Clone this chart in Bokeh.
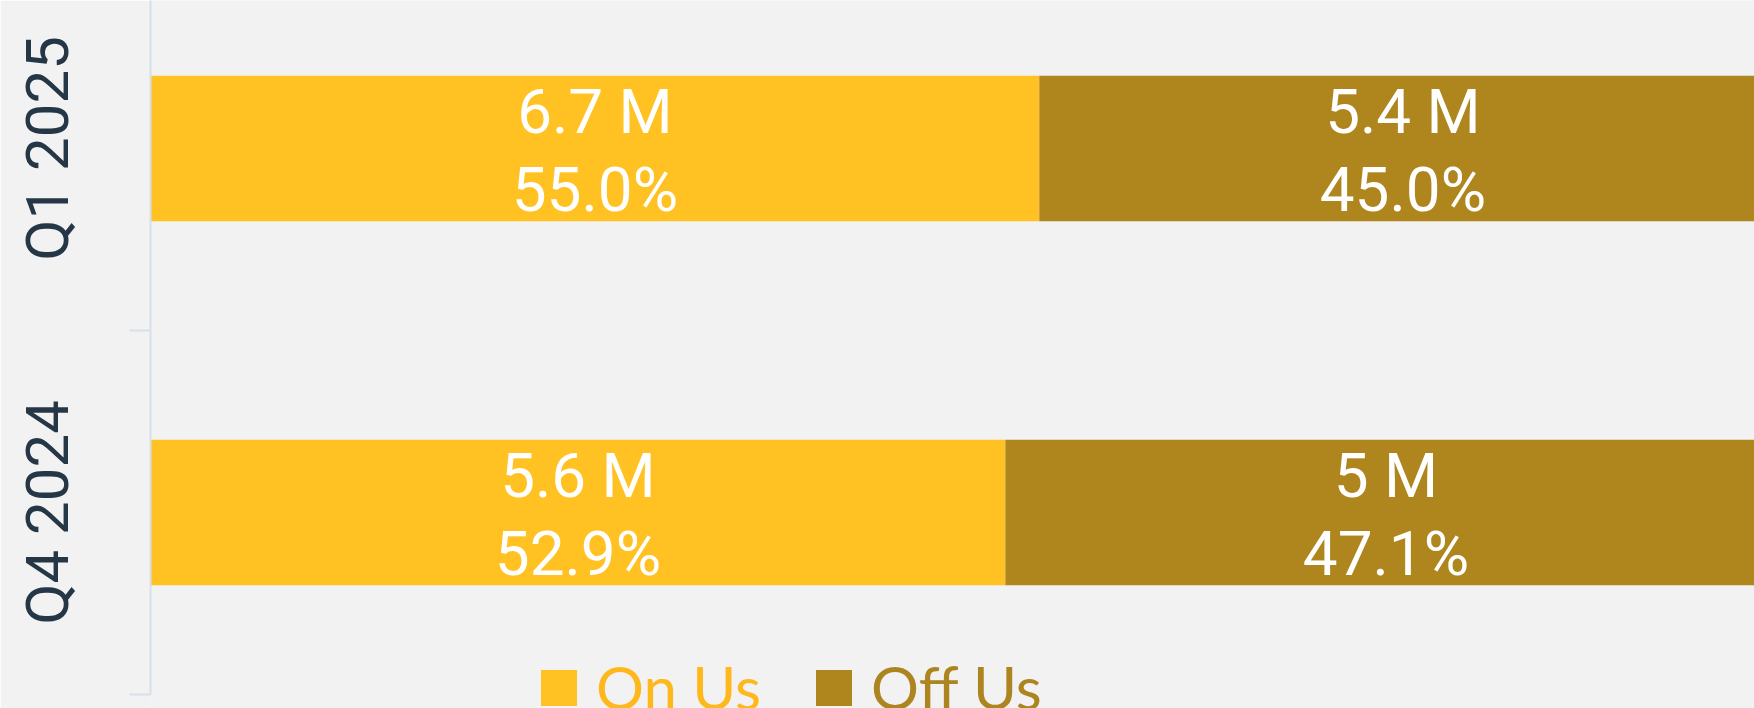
from bokeh.plotting import figure
from bokeh.models import ColumnDataSource, Range1d, FixedTicker, Legend, LegendItem
from bokeh.core.properties import value
from bokeh.embed import file_html
from bokeh.resources import INLINE

# ---- data ----
quarters = ["Q4 2024", "Q1 2025"]
series = ["On Us", "Off Us"]
on_us_millions = [5.6, 6.7]
off_us_millions = [5.0, 5.4]
on_us_pct = [52.9, 55.0]
off_us_pct = [47.1, 45.0]

# ---- styles ----
bar_colors = ["#FFC222", "#AF851E"]
legend_text_colors = ["#FFB81C", "#AD8520"]
bg = "#F2F2F2"
axis_color = "#D6E0EA"
label_font = "Roboto"
legend_font = "Lato"

ypos = list(range(len(quarters)))
on_left = [0.0 for _ in ypos]
on_right = [v / 100.0 for v in on_us_pct]
off_left = on_right
off_right = [a + b / 100.0 for a, b in zip(on_right, off_us_pct)]

def fmt_m(v):
    return f"{v:g} M"

src_on = ColumnDataSource(dict(
    y=ypos, left=on_left, right=on_right,
    mid=[(a + b) / 2 for a, b in zip(on_left, on_right)],
    val=[fmt_m(v) for v in on_us_millions],
    pct=[f"{v:.1f}%" for v in on_us_pct],
))
src_off = ColumnDataSource(dict(
    y=ypos, left=off_left, right=off_right,
    mid=[(a + b) / 2 for a, b in zip(off_left, off_right)],
    val=[fmt_m(v) for v in off_us_millions],
    pct=[f"{v:.1f}%" for v in off_us_pct],
))

y_start, y_end = -0.5385, 1.4066
p = figure(width=1754, height=708, output_backend="svg", toolbar_location=None,
           x_range=Range1d(0, 0.99257), y_range=Range1d(y_start, y_end),
           min_border_left=150, min_border_right=0, min_border_top=0, min_border_bottom=0,
           background_fill_color=bg, border_fill_color=bg, outline_line_color=None)

r_on = p.hbar(y="y", left="left", right="right", height=0.4, source=src_on,
              fill_color=bar_colors[0], line_color=None)
r_off = p.hbar(y="y", left="left", right="right", height=0.4, source=src_off,
               fill_color=bar_colors[1], line_color=None)

for src in (src_on, src_off):
    p.text(x="mid", y="y", text="val", source=src, text_align="center",
           text_baseline="alphabetic", y_offset=-36.5, text_color="white",
           text_font=value(label_font), text_font_size="62px")
    p.text(x="mid", y="y", text="pct", source=src, text_align="center",
           text_baseline="alphabetic", y_offset=41, text_color="white",
           text_font=value(label_font), text_font_size="62px")

p.xaxis.visible = False
p.xgrid.visible = False
p.ygrid.visible = False

ax = p.yaxis[0]
ax.bounds = (-0.5, y_end)
ax.ticker = FixedTicker(ticks=ypos, minor_ticks=[-0.5, 0.5, 1.5])
ax.major_label_overrides = {i: q for i, q in zip(ypos, quarters)}
ax.major_label_orientation = "vertical"
ax.major_label_text_font = "Roboto"
ax.major_label_text_font_size = "60px"
ax.major_label_text_color = "#253746"
ax.major_label_standoff = 46
ax.major_tick_out = 0
ax.major_tick_in = 0
ax.minor_tick_out = 21
ax.minor_tick_in = 0
ax.minor_tick_line_color = axis_color
ax.minor_tick_line_width = 2
ax.axis_line_color = axis_color
ax.axis_line_width = 2

legend_x = [386, 661]
for r, name, col, lx in zip((r_on, r_off), series, legend_text_colors, legend_x):
    leg = Legend(items=[LegendItem(label=name, renderers=[r])], location=(lx, -15),
                 orientation="horizontal", glyph_width=45, glyph_height=45,
                 label_standoff=15, padding=0, margin=0, border_line_color=None,
                 background_fill_alpha=0, label_text_font=legend_font,
                 label_text_font_size="60px", label_text_color=col)
    p.add_layout(leg)

open("out.html", "w").write(file_html(p, INLINE))
